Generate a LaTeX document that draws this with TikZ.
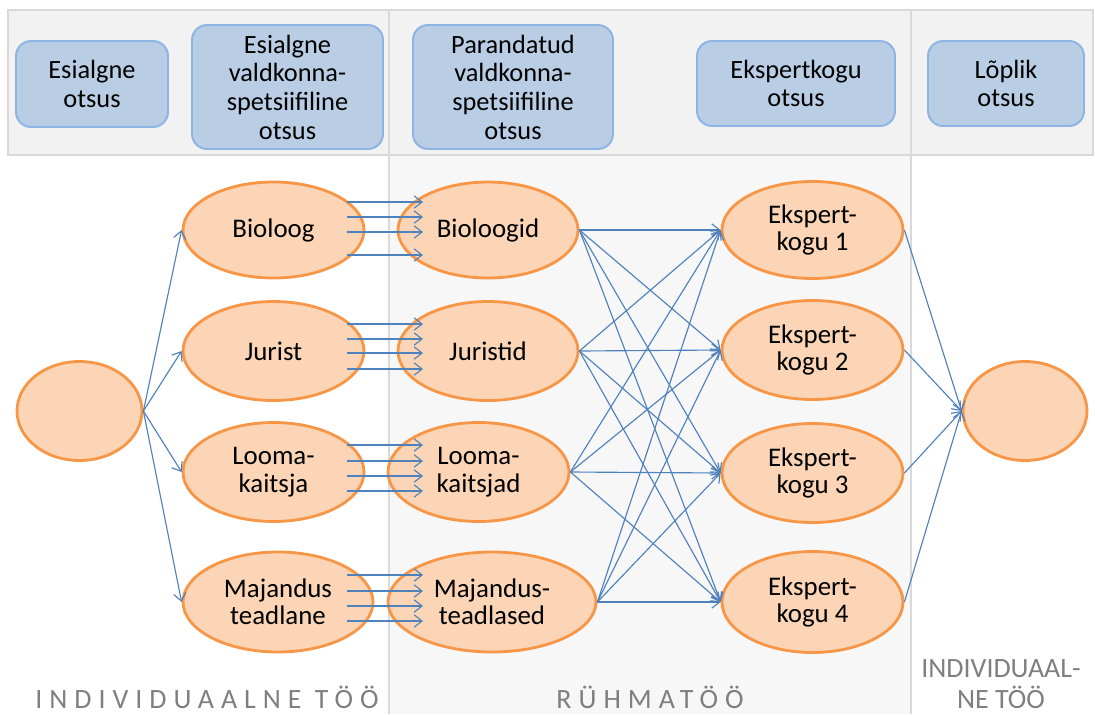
\documentclass[tikz,border=0pt]{standalone}
\usepackage{fontspec}
\setmainfont{Carlito}
\newfontfamily\spacedfont[LetterSpace=25]{Carlito}
\usetikzlibrary{shapes.geometric,arrows.meta}
\definecolor{ellfill}{HTML}{FBD5B5}
\definecolor{elldraw}{HTML}{F79646}
\definecolor{boxfill}{HTML}{B9CDE5}
\definecolor{boxdraw}{HTML}{8EB4E3}
\definecolor{arrcol}{HTML}{4F81BD}
\definecolor{bandfill}{HTML}{F2F2F2}
\definecolor{midfill}{HTML}{F7F7F7}
\definecolor{divcol}{HTML}{D9D9D9}
\definecolor{labcol}{HTML}{7F7F7F}
\begin{document}
\begin{tikzpicture}[x=0.02cm,y=-0.02cm,
  sz/.style 2 args={minimum width={#1*0.02cm},minimum height={#2*0.02cm}},
  ell/.style={ellipse,draw=elldraw,fill=ellfill,line width=1.6pt,inner sep=0pt,align=center,font=\fontsize{15.3}{15.6}\selectfont},
  dbox/.style={rectangle,rounded corners=0.3cm,draw=boxdraw,fill=boxfill,line width=1.1pt,inner sep=0pt,align=center,font=\fontsize{15}{16.3}\selectfont},
  arr/.style={draw=arrcol,line width=0.65pt,-{Straight Barb[length=4.5pt,width=7pt]}},
  lab/.style={text=labcol,inner sep=0pt,font=\fontsize{15.9}{18}\selectfont},
  divline/.style={draw=divcol,line width=1.2pt}]
\useasboundingbox (0,0) rectangle (1095,714);
% backgrounds
\fill[bandfill] (8,10) rectangle (1093,155);
\fill[midfill] (389,155) rectangle (911,714);
\draw[divline] (8,10) rectangle (1093,155);
\draw[divline] (389,10) -- (389,714);
\draw[divline] (911,10) -- (911,714);
% top boxes
\node[dbox,sz={152}{86}] (b1) at (92,84) {Esialgne\\otsus};
\node[dbox,sz={191}{124}] (b2) at (287.5,87) {Esialgne\\valdkonna-\\spetsiifiline\\otsus};
\node[dbox,sz={200}{124}] (b3) at (513,87) {Parandatud\\valdkonna-\\spetsiifiline\\otsus};
\node[dbox,sz={198}{85}] (b4) at (796,83.5) {Ekspertkogu\\otsus};
\node[dbox,sz={156}{85}] (b5) at (1006,83.5) {Lõplik\\otsus};
% ellipses
\node[ell,sz={125}{99}] (start) at (79.5,411) {};
\node[ell,sz={124}{99}] (end) at (1025,411) {};
\node[ell,sz={181}{96}] (bio) at (273.5,230) {Bioloog};
\node[ell,sz={181}{99}] (jur) at (273.5,351) {Jurist};
\node[ell,sz={181}{99}] (loo) at (273.5,472) {Looma-\\kaitsja};
\node[ell,sz={190}{100}] (maj) at (278,602) {Majandus\\teadlane};
\node[ell,sz={180}{96}] (bios) at (488,230) {Bioloogid};
\node[ell,sz={180}{99}] (jurs) at (488,351) {Juristid};
\node[ell,sz={181}{99}] (loos) at (478.5,472) {Looma-\\kaitsjad};
\node[ell,sz={208}{100}] (majs) at (492,602) {Majandus-\\teadlased};
\node[ell,sz={181}{97}] (e1) at (812.5,230) {Ekspert-\\kogu 1};
\node[ell,sz={181}{99}] (e2) at (812.5,350) {Ekspert-\\kogu 2};
\node[ell,sz={181}{99}] (e3) at (812.5,473) {Ekspert-\\kogu 3};
\node[ell,sz={181}{101}] (e4) at (812.5,602) {Ekspert-\\kogu 4};
% connectors
\foreach \t in {bio,jur,loo,maj} \draw[arr] (start.east) -- (\t.west);
\foreach \s in {bios,jurs,loos,majs}
  \foreach \t in {e1,e2,e3,e4} \draw[arr] (\s.east) -- (\t.west);
\foreach \s in {e1,e2,e3,e4} \draw[arr] (\s.east) -- (end.west);
% parallel arrows
\foreach \dy in {-28,-13,2,25}
  \draw[arr] ([shift={(73.5,\dy)}]bio.center) -- ([shift={(-65,\dy)}]bios.center);
\foreach \dy in {-27,-12,2,18}
  \draw[arr] ([shift={(73.5,\dy)}]jur.center) -- ([shift={(-65,\dy)}]jurs.center);
\foreach \dy in {-27,-11,4,19}
  \draw[arr] ([shift={(73.5,\dy)}]loo.center) -- ([shift={(-55.5,\dy)}]loos.center);
\foreach \dy in {-27,-11,4,19}
  \draw[arr] ([shift={(69,\dy)}]maj.center) -- ([shift={(-69,\dy)}]majs.center);
% bottom labels
\node[lab,anchor=base] (l1) at (207,708) {\spacedfont INDIVIDUAALNE TÖÖ};
\node[lab,anchor=base] (l2) at (650,708) {\spacedfont RÜHMATÖÖ};
\node[lab,align=center] (l3) at (1001,684) {INDIVIDUAAL-\\NE TÖÖ};
\end{tikzpicture}
\end{document}
